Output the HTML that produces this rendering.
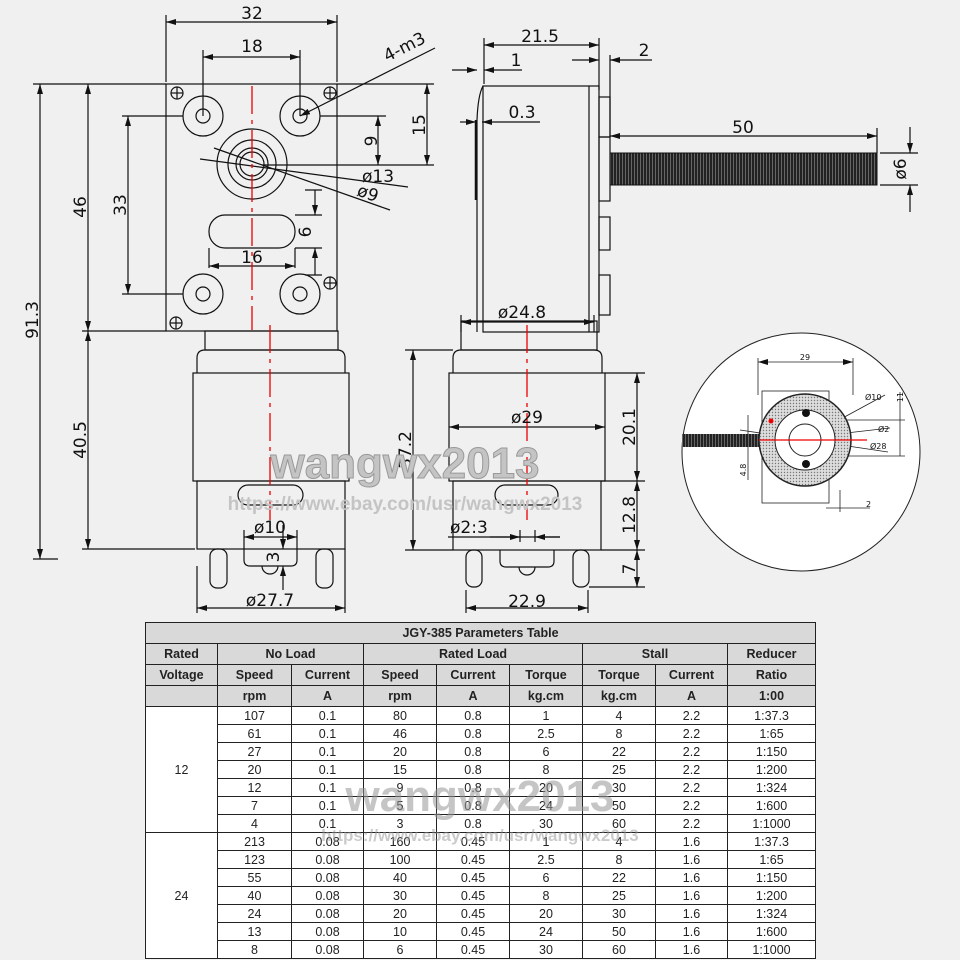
<!DOCTYPE html>
<html><head><meta charset="utf-8"><style>
html,body{margin:0;padding:0;background:#f0f0f0;}
svg{display:block}
text{font-family:"DejaVu Sans","Liberation Sans",sans-serif;fill:#111}
.t td{border:1px solid #222;text-align:center;font-family:"Liberation Sans",sans-serif;font-size:12.5px;padding:0;color:#222}
</style></head><body>
<div style="position:relative;width:960px;height:960px;overflow:hidden">
<svg width="960" height="960" viewBox="0 0 960 960" style="position:absolute;left:0;top:0">
<defs>
<marker id="a" viewBox="0 0 10 6" refX="10" refY="3" markerWidth="10" markerHeight="6" markerUnits="userSpaceOnUse" orient="auto-start-reverse"><path d="M0,0L10,3L0,6z" fill="#111"/></marker>
<pattern id="dots" width="3" height="3" patternUnits="userSpaceOnUse"><rect width="3" height="3" fill="#ddd"/><circle cx="1.5" cy="1.5" r="0.7" fill="#777"/></pattern>
<pattern id="thr" width="3" height="4" patternUnits="userSpaceOnUse"><rect width="3" height="4" fill="#222"/><rect x="1" y="0" width="1" height="4" fill="#666"/></pattern>
</defs>
<g stroke="#111" stroke-width="1.2" fill="none">
<!-- LEFT VIEW plate -->
<rect x="166" y="84" width="171" height="247"/>
<line x1="166" y1="15" x2="166" y2="82"/><line x1="337" y1="15" x2="337" y2="82"/>
<line x1="166" y1="22" x2="337" y2="22" marker-start="url(#a)" marker-end="url(#a)"/>
<line x1="203" y1="50" x2="203" y2="116"/><line x1="300" y1="50" x2="300" y2="116"/>
<line x1="203" y1="57" x2="300" y2="57" marker-start="url(#a)" marker-end="url(#a)"/>
<circle cx="203" cy="116" r="20"/><circle cx="203" cy="116" r="7"/>
<circle cx="300" cy="116" r="20"/><circle cx="300" cy="116" r="7"/>
<circle cx="203" cy="294" r="20"/><circle cx="203" cy="294" r="7"/>
<circle cx="300" cy="294" r="20"/><circle cx="300" cy="294" r="7"/>
<circle cx="252" cy="164" r="35"/><circle cx="252" cy="164" r="24"/><circle cx="252" cy="164" r="16"/><circle cx="252" cy="164" r="12"/>
<rect x="209" y="215" width="86" height="33" rx="16"/>
<!-- crosshair -->
<g><circle cx="177" cy="93" r="6"/><line x1="171" y1="93" x2="183" y2="93"/><line x1="177" y1="87" x2="177" y2="99"/>
<circle cx="330" cy="93" r="6"/><line x1="324" y1="93" x2="336" y2="93"/><line x1="330" y1="87" x2="330" y2="99"/>
<circle cx="330" cy="283" r="6"/><line x1="324" y1="283" x2="336" y2="283"/><line x1="330" y1="277" x2="330" y2="289"/>
<circle cx="176" cy="323" r="6"/><line x1="170" y1="323" x2="182" y2="323"/><line x1="176" y1="317" x2="176" y2="329"/></g>
<!-- dims right of plate -->
<line x1="337" y1="84" x2="434" y2="84"/><line x1="320" y1="116" x2="386" y2="116"/><line x1="262" y1="165" x2="434" y2="165"/>
<line x1="378" y1="116" x2="378" y2="165" marker-start="url(#a)" marker-end="url(#a)"/>
<line x1="427" y1="84" x2="427" y2="165" marker-start="url(#a)" marker-end="url(#a)"/>
<line x1="300" y1="116" x2="435" y2="48" marker-start="url(#a)"/>
<line x1="200" y1="159" x2="408" y2="187"/><line x1="214" y1="148" x2="390" y2="210"/>
<line x1="305" y1="190" x2="322" y2="190"/><line x1="305" y1="275" x2="322" y2="275"/>
<line x1="295" y1="215" x2="322" y2="215"/><line x1="295" y1="248" x2="322" y2="248"/>
<line x1="315" y1="190" x2="315" y2="215" marker-end="url(#a)"/><line x1="315" y1="275" x2="315" y2="248" marker-end="url(#a)"/>
<line x1="209" y1="248" x2="209" y2="268"/><line x1="295" y1="248" x2="295" y2="268"/>
<line x1="209" y1="266" x2="295" y2="266" marker-start="url(#a)" marker-end="url(#a)"/>
<!-- left dims -->
<line x1="33" y1="84" x2="166" y2="84"/><line x1="82" y1="331" x2="166" y2="331"/><line x1="82" y1="549" x2="195" y2="549"/><line x1="33" y1="559" x2="58" y2="559"/>
<line x1="122" y1="116" x2="183" y2="116"/><line x1="122" y1="294" x2="183" y2="294"/>
<line x1="40" y1="84" x2="40" y2="559" marker-start="url(#a)" marker-end="url(#a)"/>
<line x1="88" y1="84" x2="88" y2="331" marker-start="url(#a)" marker-end="url(#a)"/>
<line x1="88" y1="331" x2="88" y2="549" marker-start="url(#a)" marker-end="url(#a)"/>
<line x1="128" y1="116" x2="128" y2="294" marker-start="url(#a)" marker-end="url(#a)"/>
<!-- left motor -->
<rect x="205" y="331" width="133" height="19"/>
<path d="M197,373V358q0,-8 8,-8H337q8,0 8,8V373"/>
<rect x="193" y="373" width="156" height="108"/>
<rect x="197" y="481" width="148" height="68"/>
<rect x="238" y="485" width="65" height="20" rx="10"/>
<path d="M244,549V560q0,6 6,6H291q6,0 6,-6V549"/>
<path d="M262,566a8,8 0 0 0 16,0"/>
<rect x="210" y="549" width="17" height="39" rx="7"/><rect x="316" y="549" width="17" height="39" rx="7"/>
<line x1="244" y1="530" x2="244" y2="549"/><line x1="297" y1="530" x2="297" y2="549"/>
<line x1="244" y1="537" x2="297" y2="537" marker-start="url(#a)" marker-end="url(#a)"/>
<line x1="283" y1="525" x2="283" y2="549" marker-end="url(#a)"/><line x1="283" y1="590" x2="283" y2="566" marker-end="url(#a)"/>
<line x1="197" y1="566" x2="197" y2="613"/><line x1="345" y1="549" x2="345" y2="613"/>
<line x1="197" y1="608" x2="345" y2="608" marker-start="url(#a)" marker-end="url(#a)"/>
<!-- right motor -->
<rect x="461" y="321" width="136" height="29"/>
<path d="M453,373V358q0,-8 8,-8H594q8,0 8,8V373"/>
<rect x="449" y="373" width="156" height="108"/>
<rect x="453" y="481" width="148" height="69"/>
<rect x="495" y="485" width="63" height="20" rx="10"/>
<path d="M500,550V561q0,6 6,6H548q6,0 6,-6V550"/>
<path d="M519,567a8,8 0 0 0 16,0"/>
<rect x="466" y="550" width="16" height="37" rx="7"/><rect x="573" y="550" width="16" height="37" rx="7"/>
<line x1="449" y1="427" x2="605" y2="427" marker-start="url(#a)" marker-end="url(#a)"/>
<line x1="405" y1="350" x2="453" y2="350"/><line x1="405" y1="550" x2="453" y2="550"/>
<line x1="413" y1="350" x2="413" y2="550" marker-start="url(#a)" marker-end="url(#a)"/>
<line x1="448" y1="537" x2="560" y2="537"/><line x1="520" y1="530" x2="520" y2="542"/><line x1="535" y1="530" x2="535" y2="542"/>
<line x1="490" y1="537" x2="520" y2="537" marker-end="url(#a)"/><line x1="560" y1="537" x2="535" y2="537" marker-end="url(#a)"/>
<line x1="605" y1="373" x2="645" y2="373"/><line x1="601" y1="481" x2="645" y2="481"/><line x1="601" y1="550" x2="645" y2="550"/><line x1="589" y1="587" x2="645" y2="587"/>
<line x1="637" y1="373" x2="637" y2="481" marker-start="url(#a)" marker-end="url(#a)"/>
<line x1="637" y1="481" x2="637" y2="550" marker-start="url(#a)" marker-end="url(#a)"/>
<line x1="637" y1="550" x2="637" y2="587" marker-start="url(#a)" marker-end="url(#a)"/>
<line x1="466" y1="590" x2="466" y2="613"/><line x1="588" y1="590" x2="588" y2="613"/>
<line x1="466" y1="608" x2="588" y2="608" marker-start="url(#a)" marker-end="url(#a)"/>
<!-- side view top -->
<rect x="483" y="86" width="116" height="246"/>
<line x1="477" y1="120" x2="477" y2="332"/><line x1="589" y1="86" x2="589" y2="332"/>
<path d="M483,86Q478,95 477,120"/>
<line x1="476" y1="120" x2="476" y2="200" stroke-width="2.5"/>
<rect x="599" y="97" width="11" height="40"/><rect x="599" y="137" width="11" height="64"/><rect x="599" y="217" width="11" height="33"/><rect x="599" y="275" width="11" height="40"/>
<line x1="484" y1="38" x2="484" y2="84"/><line x1="599" y1="38" x2="599" y2="90"/><line x1="610" y1="55" x2="610" y2="137"/>
<line x1="484" y1="45" x2="599" y2="45" marker-start="url(#a)" marker-end="url(#a)"/>
<line x1="572" y1="60" x2="599" y2="60" marker-end="url(#a)"/><line x1="652" y1="60" x2="610" y2="60" marker-end="url(#a)"/>
<line x1="452" y1="70" x2="477" y2="70" marker-end="url(#a)"/><line x1="522" y1="70" x2="484" y2="70" marker-end="url(#a)"/>
<line x1="460" y1="122" x2="476" y2="122" marker-end="url(#a)"/><line x1="540" y1="122" x2="482" y2="122" marker-end="url(#a)"/>
<line x1="461" y1="315" x2="461" y2="332"/><line x1="594" y1="315" x2="594" y2="332"/>
<line x1="461" y1="322" x2="594" y2="322" marker-start="url(#a)" marker-end="url(#a)"/>
<line x1="610" y1="136" x2="877" y2="136" marker-start="url(#a)" marker-end="url(#a)"/>
<line x1="877" y1="128" x2="877" y2="153"/>
<line x1="880" y1="153" x2="918" y2="153"/><line x1="880" y1="185" x2="918" y2="185"/>
<line x1="910" y1="127" x2="910" y2="153" marker-end="url(#a)"/><line x1="910" y1="212" x2="910" y2="185" marker-end="url(#a)"/>
</g>
<rect x="610" y="153" width="267" height="32" fill="url(#thr)" stroke="#111"/>
<!-- red centerlines -->
<g stroke="#e00" stroke-width="1.3" stroke-dasharray="28,6,4,6">
<line x1="252" y1="86" x2="252" y2="330"/><line x1="270" y1="325" x2="270" y2="520"/><line x1="527" y1="325" x2="527" y2="520"/>
</g>
<!-- circle detail -->
<circle cx="801" cy="452" r="119" fill="#fff" stroke="#222" stroke-width="1"/>
<g stroke="#222" stroke-width="0.8" fill="none">
<rect x="762" y="391" width="67" height="112"/>
<line x1="758" y1="358" x2="758" y2="395"/><line x1="853" y1="358" x2="853" y2="395"/>
<line x1="758" y1="362" x2="853" y2="362" marker-start="url(#a)" marker-end="url(#a)"/>
<line x1="830" y1="420" x2="905" y2="420"/><line x1="830" y1="456" x2="905" y2="456"/><line x1="900" y1="392" x2="900" y2="456"/>
<line x1="780" y1="452" x2="885" y2="395"/><line x1="785" y1="440" x2="890" y2="428"/><line x1="740" y1="430" x2="888" y2="452"/>
<line x1="748" y1="415" x2="748" y2="480"/><line x1="840" y1="490" x2="840" y2="512"/><line x1="826" y1="508" x2="870" y2="508"/>
</g>
<rect x="682" y="434" width="82" height="13" fill="url(#thr)"/>
<circle cx="805" cy="440" r="46" fill="url(#dots)" stroke="#222" stroke-width="1.5"/>
<circle cx="805" cy="440" r="30" fill="#fff" stroke="#222"/>
<circle cx="805" cy="440" r="16" fill="#fff" stroke="#222"/>
<circle cx="806" cy="413" r="4" fill="#111"/><circle cx="806" cy="464" r="4" fill="#111"/>
<circle cx="771" cy="421" r="2.5" fill="#e00"/>
<line x1="759" y1="440" x2="867" y2="440" stroke="#e00" stroke-width="1.3"/>
<!-- text -->
<g font-size="17">
<text x="252" y="19" text-anchor="middle">32</text>
<text x="252" y="52" text-anchor="middle">18</text>
<text x="252" y="263" text-anchor="middle">16</text>
<text transform="translate(407,52) rotate(-27)" text-anchor="middle">4-m3</text>
<text x="362" y="182">ø13</text>
<text transform="translate(356,195) rotate(20)">ø9</text>
<text transform="translate(377,141) rotate(-90)" text-anchor="middle">9</text>
<text transform="translate(425,125) rotate(-90)" text-anchor="middle">15</text>
<text transform="translate(311,232) rotate(-90)" text-anchor="middle">6</text>
<text transform="translate(38,320) rotate(-90)" text-anchor="middle">91.3</text>
<text transform="translate(86,207) rotate(-90)" text-anchor="middle">46</text>
<text transform="translate(86,440) rotate(-90)" text-anchor="middle">40.5</text>
<text transform="translate(126,205) rotate(-90)" text-anchor="middle">33</text>
<text x="270" y="533" text-anchor="middle">ø10</text>
<text transform="translate(279,557) rotate(-90)" text-anchor="middle">3</text>
<text x="270" y="606" text-anchor="middle">ø27.7</text>
<text x="527" y="423" text-anchor="middle">ø29</text>
<text transform="translate(411,450) rotate(-90)" text-anchor="middle">37.2</text>
<text x="450" y="533">ø2:3</text>
<text transform="translate(635,427) rotate(-90)" text-anchor="middle">20.1</text>
<text transform="translate(635,515) rotate(-90)" text-anchor="middle">12.8</text>
<text transform="translate(635,569) rotate(-90)" text-anchor="middle">7</text>
<text x="527" y="607" text-anchor="middle">22.9</text>
<text x="540" y="42" text-anchor="middle">21.5</text>
<text x="644" y="56" text-anchor="middle">2</text>
<text x="516" y="66" text-anchor="middle">1</text>
<text x="522" y="118" text-anchor="middle">0.3</text>
<text x="522" y="318" text-anchor="middle">ø24.8</text>
<text x="743" y="133" text-anchor="middle">50</text>
<text transform="translate(906,169) rotate(-90)" text-anchor="middle">ø6</text>
</g>
<g font-size="8">
<text x="805" y="360" text-anchor="middle">29</text>
<text x="865" y="400">Ø10</text><text x="878" y="432">Ø2</text><text x="870" y="449">Ø28</text>
<text transform="translate(903,397) rotate(-90)" text-anchor="middle">11</text>
<text transform="translate(746,470) rotate(-90)" text-anchor="middle">4.8</text>
<text x="866" y="507">2</text>
</g>
<text x="405" y="478" font-size="44" font-weight="bold" fill="#bbb" style="fill:#c4c4c4;font-family:'Liberation Sans',sans-serif" text-anchor="middle" stroke="#999" stroke-width="1">wangwx2013</text>
<text x="405" y="510" font-size="19" style="fill:#c4c4c4;font-family:'Liberation Sans',sans-serif" font-weight="bold" text-anchor="middle">https://www.ebay.com/usr/wangwx2013</text>
</svg>
<table class="t" style="position:absolute;left:145px;top:622px;width:670px;border-collapse:collapse;table-layout:fixed;background:#fff">
<colgroup><col style="width:72px"><col style="width:74px"><col style="width:72px"><col style="width:73px"><col style="width:73px"><col style="width:73px"><col style="width:73px"><col style="width:72px"><col style="width:88px"></colgroup>
<tr style="height:21px;background:#d9d9d9;font-weight:bold"><td colspan="9" style="font-weight:bold">JGY-385 Parameters Table</td></tr>
<tr style="height:21px;background:#d9d9d9;font-weight:bold"><td>Rated</td><td colspan="2">No Load</td><td colspan="3">Rated Load</td><td colspan="2">Stall</td><td>Reducer</td></tr>
<tr style="height:21px;background:#d9d9d9;font-weight:bold"><td>Voltage</td><td>Speed</td><td>Current</td><td>Speed</td><td>Current</td><td>Torque</td><td>Torque</td><td>Current</td><td>Ratio</td></tr>
<tr style="height:21px;background:#d9d9d9;font-weight:bold"><td></td><td>rpm</td><td>A</td><td>rpm</td><td>A</td><td>kg.cm</td><td>kg.cm</td><td>A</td><td>1:00</td></tr>
<tr style="height:18px"><td rowspan="7">12</td><td>107</td><td>0.1</td><td>80</td><td>0.8</td><td>1</td><td>4</td><td>2.2</td><td>1:37.3</td></tr>
<tr style="height:18px"><td>61</td><td>0.1</td><td>46</td><td>0.8</td><td>2.5</td><td>8</td><td>2.2</td><td>1:65</td></tr>
<tr style="height:18px"><td>27</td><td>0.1</td><td>20</td><td>0.8</td><td>6</td><td>22</td><td>2.2</td><td>1:150</td></tr>
<tr style="height:18px"><td>20</td><td>0.1</td><td>15</td><td>0.8</td><td>8</td><td>25</td><td>2.2</td><td>1:200</td></tr>
<tr style="height:18px"><td>12</td><td>0.1</td><td>9</td><td>0.8</td><td>20</td><td>30</td><td>2.2</td><td>1:324</td></tr>
<tr style="height:18px"><td>7</td><td>0.1</td><td>5</td><td>0.8</td><td>24</td><td>50</td><td>2.2</td><td>1:600</td></tr>
<tr style="height:18px"><td>4</td><td>0.1</td><td>3</td><td>0.8</td><td>30</td><td>60</td><td>2.2</td><td>1:1000</td></tr>
<tr style="height:18px"><td rowspan="7">24</td><td>213</td><td>0.08</td><td>160</td><td>0.45</td><td>1</td><td>4</td><td>1.6</td><td>1:37.3</td></tr>
<tr style="height:18px"><td>123</td><td>0.08</td><td>100</td><td>0.45</td><td>2.5</td><td>8</td><td>1.6</td><td>1:65</td></tr>
<tr style="height:18px"><td>55</td><td>0.08</td><td>40</td><td>0.45</td><td>6</td><td>22</td><td>1.6</td><td>1:150</td></tr>
<tr style="height:18px"><td>40</td><td>0.08</td><td>30</td><td>0.45</td><td>8</td><td>25</td><td>1.6</td><td>1:200</td></tr>
<tr style="height:18px"><td>24</td><td>0.08</td><td>20</td><td>0.45</td><td>20</td><td>30</td><td>1.6</td><td>1:324</td></tr>
<tr style="height:18px"><td>13</td><td>0.08</td><td>10</td><td>0.45</td><td>24</td><td>50</td><td>1.6</td><td>1:600</td></tr>
<tr style="height:18px"><td>8</td><td>0.08</td><td>6</td><td>0.45</td><td>30</td><td>60</td><td>1.6</td><td>1:1000</td></tr>
</table>
<div style="position:absolute;left:290px;top:772px;width:380px;text-align:center;font:bold 44px 'Liberation Sans',sans-serif;color:rgba(150,150,150,0.55)">wangwx2013</div>
<div style="position:absolute;left:260px;top:826px;width:440px;text-align:center;font:bold 17px 'Liberation Sans',sans-serif;color:rgba(150,150,150,0.5)">https://www.ebay.com/usr/wangwx2013</div>
</div>
</body></html>
